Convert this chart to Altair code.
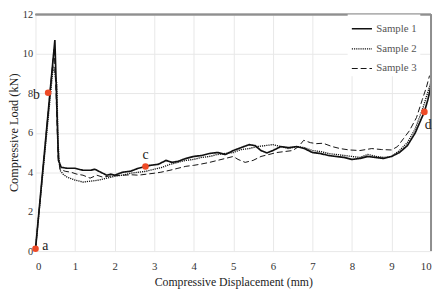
import altair as alt
import pandas as pd

s1_x = [0, 0.49, 0.53, 0.58, 0.65, 0.8, 1.0, 1.2, 1.4, 1.5, 1.65, 1.8, 1.9, 2.0, 2.2, 2.4, 2.6, 2.78, 2.9, 3.1,
        3.3, 3.45, 3.6, 3.8, 4.0, 4.2, 4.4, 4.6, 4.8, 5.0, 5.2, 5.4, 5.55, 5.7, 5.85, 6.0, 6.2, 6.4, 6.6, 6.8,
        7.0, 7.2, 7.4, 7.6, 7.8, 8.0, 8.2, 8.4, 8.6, 8.8, 9.0, 9.2, 9.4, 9.6, 9.75, 9.83, 9.92, 10.0]
s1_y = [0.1, 10.7, 8.0, 4.6, 4.25, 4.2, 4.2, 4.1, 4.1, 4.15, 4.0, 3.85, 3.9, 3.85, 4.0, 4.05, 4.2, 4.29, 4.35, 4.4,
        4.6, 4.5, 4.55, 4.7, 4.8, 4.85, 4.95, 5.0, 4.9, 5.1, 5.25, 5.4, 5.35, 5.1, 4.98, 5.1, 5.3, 5.25, 5.3, 5.2,
        5.0, 4.95, 4.85, 4.8, 4.75, 4.65, 4.7, 4.8, 4.75, 4.7, 4.8, 5.0, 5.35, 6.0, 6.7, 7.06, 7.7, 8.4]

s2_x = [0, 0.45, 0.54, 0.57, 0.62, 0.7, 0.8, 1.0, 1.2, 1.4, 1.6, 1.8, 2.0, 2.2, 2.4, 2.6, 2.8, 3.0, 3.2, 3.4,
        3.6, 3.8, 4.0, 4.2, 4.4, 4.6, 4.8, 5.0, 5.2, 5.4, 5.6, 5.8, 6.0, 6.2, 6.4, 6.6, 6.8, 7.0, 7.2, 7.4,
        7.6, 7.8, 8.0, 8.2, 8.4, 8.6, 8.8, 9.0, 9.2, 9.4, 9.6, 9.8, 10.0]
s2_y = [0.1, 9.4, 8.5, 5.5, 4.1, 3.9, 3.75, 3.6, 3.5, 3.55, 3.6, 3.7, 3.8, 3.85, 3.95, 4.0, 4.05, 4.15, 4.25, 4.4,
        4.5, 4.6, 4.65, 4.75, 4.8, 4.9, 4.95, 5.0, 5.15, 5.2, 5.3, 5.35, 5.4, 5.3, 5.2, 5.3, 5.25, 5.1, 5.05, 4.95,
        4.9, 4.85, 4.8, 4.75, 4.9, 4.8, 4.75, 4.8, 5.1, 5.5, 6.2, 7.3, 8.6]

s3_x = [0, 0.47, 0.52, 0.57, 0.62, 0.75, 0.9, 1.05, 1.2, 1.38, 1.55, 1.7, 1.85, 2.0, 2.2, 2.44, 2.6, 2.8, 3.0, 3.17,
        3.4, 3.6, 3.8, 4.0, 4.15, 4.4, 4.6, 4.8, 5.0, 5.12, 5.3, 5.5, 5.7, 5.9, 6.1, 6.3, 6.5, 6.65, 6.78, 6.95,
        7.1, 7.27, 7.5, 7.7, 7.93, 8.2, 8.5, 8.75, 9.0, 9.15, 9.3, 9.45, 9.63, 9.78, 9.88, 9.96]
s3_y = [0.1, 10.3, 8.0, 4.8, 4.15, 4.05, 4.0, 3.9, 3.85, 3.7, 3.85, 3.75, 3.8, 3.82, 3.85, 3.87, 3.85, 3.9, 3.95, 4.0,
        4.1, 4.2, 4.3, 4.35, 4.4, 4.5, 4.6, 4.7, 4.8, 4.65, 4.5, 4.6, 4.8, 4.9, 5.0, 5.05, 5.1, 5.3, 5.62, 5.5,
        5.45, 5.47, 5.3, 5.2, 5.13, 5.1, 5.2, 5.15, 5.13, 5.3, 5.7, 6.1, 6.77, 7.7, 8.3, 8.9]

series_names = ["Sample 1", "Sample 2", "Sample 3"]

pt_label = ["a", "b", "c", "d"]
pt_x = [0.0, 0.32, 2.78, 9.83]
pt_y = [0.12, 8.03, 4.29, 7.06]

rows = []
for name, xs, ys in zip(series_names, [s1_x, s2_x, s3_x], [s1_y, s2_y, s3_y]):
    for i, (a, b) in enumerate(zip(xs, ys)):
        rows.append({"series": name, "x": a, "y": b, "order": i})
df = pd.DataFrame(rows)
pts = pd.DataFrame({"label": pt_label, "x": pt_x, "y": pt_y})

FONT = "Liberation Serif"

xscale = alt.Scale(domain=[0, 10], nice=False)
yscale = alt.Scale(domain=[0, 12], nice=False)

lines = alt.Chart(df).mark_line().encode(
    x=alt.X("x:Q", scale=xscale,
            axis=alt.Axis(values=list(range(0, 11)), title="Compressive Displacement (mm)",
                          labelPadding=10, titlePadding=5)),
    y=alt.Y("y:Q", scale=yscale,
            axis=alt.Axis(values=list(range(0, 13, 2)), title="Compressive Load (kN)",
                          labelPadding=3, labelFontSize=10.5, titleX=-15, titleY=120,
                          titleAngle=270, titleAlign="center", titleBaseline="bottom")),
    order="order:Q",
    strokeDash=alt.StrokeDash("series:N", scale=alt.Scale(domain=series_names,
                              range=[[1, 0], [1.2, 1], [6, 3]]),
                              legend=alt.Legend(title=None, orient="none", legendX=318, legendY=0,
                                                symbolType="stroke", symbolSize=420,
                                                symbolStrokeColor="#111", labelFont=FONT,
                                                labelFontSize=11, labelColor="#555",
                                                rowPadding=4, labelOffset=3, padding=3,
                                                fillColor="white")),
    strokeWidth=alt.StrokeWidth("series:N", scale=alt.Scale(domain=series_names, range=[1.7, 1.0, 1.8]),
                                legend=None),
    color=alt.value("#111"),
)

top = alt.Chart(pts).mark_rule(color="#8f8f8f", strokeWidth=1.5).encode(y=alt.datum(12, scale=yscale))
right = alt.Chart(pts).mark_rule(color="#8f8f8f", strokeWidth=1.5).encode(x=alt.datum(10, scale=xscale))

dots = alt.Chart(pts).mark_circle(size=45, color="#ee4a26", opacity=1).encode(x="x:Q", y="y:Q")

offsets = {"a": (10, -3), "b": (-12, 2), "c": (0, -12), "d": (4, 13)}
texts = []
for lab in pt_label:
    dx, dy = offsets[lab]
    texts.append(alt.Chart(pts).transform_filter(alt.datum.label == lab).mark_text(
        font=FONT, fontSize=14, color="#222", dx=dx, dy=dy).encode(x="x:Q", y="y:Q", text="label:N"))

chart = alt.layer(lines, top, right, dots, *texts).properties(
    width=403, height=241,
    autosize=alt.AutoSizeParams(type="none"),
    padding={"left": 28, "top": 4, "right": 6, "bottom": 37},
).configure_view(stroke=None).configure_axis(
    grid=True, gridColor="#e8e8e8", gridWidth=1, domain=False, ticks=False,
    labelFont=FONT, labelFontSize=11, labelColor="#333",
    titleFont=FONT, titleFontWeight="normal", titleColor="#222",
).configure_axisX(titleFontSize=12).configure_axisY(titleFontSize=12.5)

chart.save("out.html", embed_options={"renderer": "svg", "actions": False})
